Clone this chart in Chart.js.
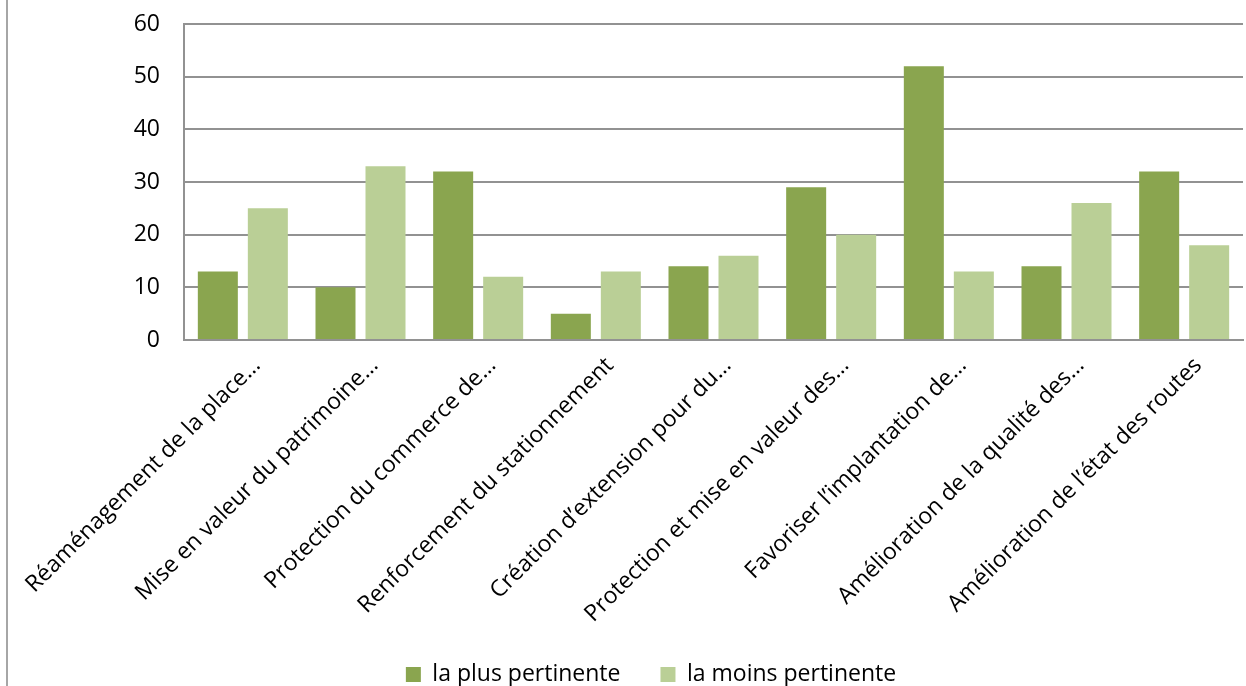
<!DOCTYPE html>
<html>
<head>
<meta charset="utf-8">
<script src="https://cdn.jsdelivr.net/npm/chart.js@4"></script>
<style>
    html, body { margin: 0; padding: 0; background: #fff; overflow: hidden; }
    #frame {
        position: absolute; left: 6px; top: 0;
        width: 1240px; height: 686px;
        border-left: 2px solid #a6a6a6;
    }
    #chart { display: block; }
</style>
</head>
<body>
<div id="frame"><canvas id="chart" width="1238" height="686"></canvas></div>
<script>
// categories on the x axis (already shortened as in the original)
const categories = [
    'Réaménagement de la place…',
    'Mise en valeur du patrimoine…',
    'Protection du commerce de…',
    'Renforcement du stationnement',
    'Création d’extension pour du…',
    'Protection et mise en valeur des…',
    'Favoriser l’implantation de…',
    'Amélioration de la qualité des…',
    'Amélioration de l’état des routes'
];

// number of answers for each series
const plusPertinente = [13, 10, 32, 5, 14, 29, 52, 14, 32];
const moinsPertinente = [25, 33, 12, 13, 16, 20, 13, 26, 18];

const seriesNames = ['la plus pertinente', 'la moins pertinente'];

// y axis range
const yMin = 0;
const yMax = 60;
const yStep = 10;

const font = { family: '"Open Sans", sans-serif', size: 23 };

new Chart(document.getElementById('chart'), {
    type: 'bar',
    data: {
        labels: categories,
        datasets: [
            { label: seriesNames[0], data: plusPertinente, backgroundColor: '#8aa54f' },
            { label: seriesNames[1], data: moinsPertinente, backgroundColor: '#bacf96' }
        ]
    },
    options: {
        responsive: false,
        animation: false,
        layout: { padding: { left: 51, right: 3, top: 24, bottom: -10 } },
        datasets: {
            bar: { categoryPercentage: 0.85, barPercentage: 0.8 }
        },
        scales: {
            x: {
                grid: { display: false, drawTicks: false },
                border: { color: '#929292', width: 2 },
                ticks: {
                    color: '#000', font: font,
                    maxRotation: 45, minRotation: 45,
                    autoSkip: false, padding: 12, labelOffset: 14
                },
                // fixed axis height, and let the long rotated labels overflow to the left
                afterFit: (scale) => {
                    scale.height = 283;
                    scale.paddingLeft = 0;
                    scale.paddingRight = 0;
                }
            },
            y: {
                min: yMin, max: yMax,
                grid: { color: '#929292', lineWidth: 2, drawTicks: false },
                border: { color: '#929292', width: 2 },
                ticks: { stepSize: yStep, color: '#000', font: font, padding: 24 },
                afterFit: (scale) => {
                    scale.width = 125;
                    scale.paddingTop = 0;
                    scale.paddingBottom = 0;
                }
            }
        },
        plugins: {
            legend: {
                position: 'bottom',
                labels: {
                    color: '#000', font: font,
                    boxWidth: 15, boxHeight: 15, padding: 40
                }
            },
            tooltip: { enabled: false }
        }
    }
});
</script>
</body>
</html>
